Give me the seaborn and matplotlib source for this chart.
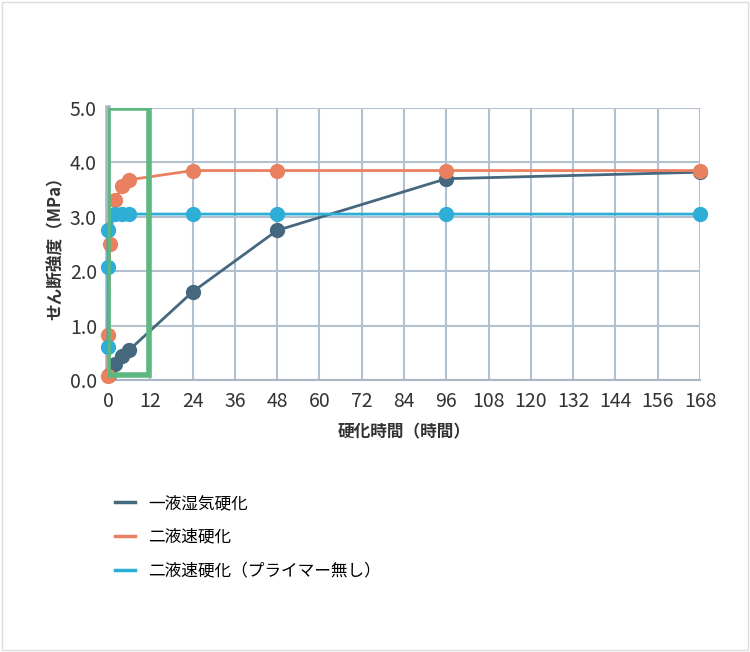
import matplotlib
matplotlib.use("Agg")
import matplotlib.pyplot as plt
import seaborn as sns
import pandas as pd
from matplotlib.patches import Rectangle
from matplotlib.lines import Line2D

plt.rcParams["font.family"] = ["Noto Sans CJK JP", "DejaVu Sans"]

names = ["一液湿気硬化", "二液速硬化", "二液速硬化（プライマー無し）"]
colors = ["#46687e", "#e9805f", "#2eaed6"]
x1 = [0.3, 2, 4, 6, 24, 48, 96, 168]
y1 = [0.1, 0.3, 0.45, 0.55, 1.62, 2.75, 3.7, 3.82]
x2 = [0, 0, 0.5, 2, 4, 6, 24, 48, 96, 168]
y2 = [0.08, 0.82, 2.5, 3.3, 3.57, 3.68, 3.85, 3.85, 3.85, 3.85]
x3 = [0, 0, 0, 2, 4, 6, 24, 48, 96, 168]
y3 = [0.6, 2.08, 2.75, 3.05, 3.05, 3.05, 3.05, 3.05, 3.05, 3.05]
xticks = list(range(0, 169, 12))

fig = plt.figure(figsize=(7.5, 6.52), dpi=100)
fig.patches.append(Rectangle((0.003, 0.003), 0.994, 0.994, transform=fig.transFigure,
                             fill=False, edgecolor="#dddddd", lw=1))
ax = fig.add_axes([108/750, 1-380/652, 592/750, 272/652])
for xs, ys, n, c in zip([x1, x2, x3], [y1, y2, y3], names, colors):
    df = pd.DataFrame({"x": xs, "y": ys})
    sns.lineplot(data=df, x="x", y="y", ax=ax, color=c, lw=2, sort=False,
                 estimator=None, marker="o", markersize=11, markeredgewidth=0,
                 zorder=3, clip_on=False)
ax.add_patch(Rectangle((0, 0.1), 11.5, 4.9, fill=False, edgecolor="#5cb87f", lw=4, zorder=4))
ax.set_xlim(0, 168)
ax.set_ylim(0, 5)
ax.set_xticks(xticks)
ax.set_yticks([0, 1, 2, 3, 4, 5])
ax.set_yticklabels([f"{v:.1f}" for v in range(6)])
ax.grid(True, color="#b3c0cf", lw=1.5)
ax.set_axisbelow(True)
for s in ["top", "right"]:
    ax.spines[s].set_visible(False)
ax.spines["left"].set_color("#aab6c4"); ax.spines["left"].set_linewidth(4)
ax.spines["bottom"].set_color("#aab6c4"); ax.spines["bottom"].set_linewidth(1.5)
ax.tick_params(length=0, labelsize=14, colors="#333333", pad=8)
ax.set_xlabel("硬化時間（時間）", fontsize=12, fontweight="bold", color="#333333", labelpad=8)
ax.set_ylabel("せん断強度（MPa）", fontsize=12, fontweight="bold", color="#333333")
handles = [Line2D([], [], color=c, lw=2.5) for c in colors]
fig.legend(handles, names, loc="upper left", bbox_to_anchor=(100/750, 1-480/652),
           frameon=False, fontsize=12, handlelength=1.2, labelspacing=1.0)
fig.savefig("out.png", dpi=100, facecolor="white")
